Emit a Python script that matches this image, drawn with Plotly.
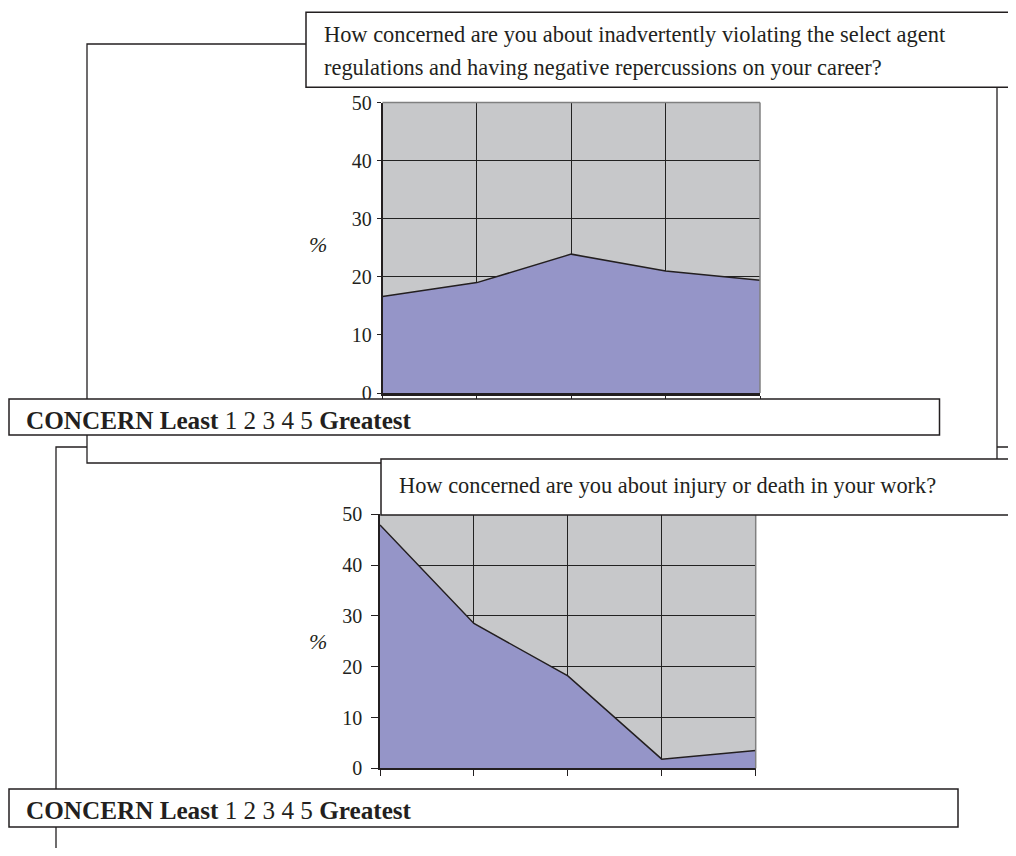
import plotly.graph_objects as go

# ---------------- data ----------------
categories = [1, 2, 3, 4, 5]
career_pct = [16.6, 19.0, 23.9, 21.0, 19.4]
injury_pct = [47.9, 28.5, 18.2, 1.8, 3.5]
y_ticks = [0, 10, 20, 30, 40, 50]

title_career_1 = "How concerned are you about inadvertently violating the select agent"
title_career_2 = "regulations and having negative repercussions on your career?"
title_injury = "How concerned are you about injury or death in your work?"
scale_label = "<b>CONCERN Least</b> 1 2 3 4 5 <b>Greatest</b>"
y_label = "<i>%</i>"

# ---------------- layout helpers ----------------
OFF = 8  # page offset of the figure inside the browser window
W, H = 1016 - OFF, 856 - 2 * OFF
FONT = "Liberation Serif, Times New Roman, serif"
INK = "#231f20"
GREY_BG = "#c7c8ca"
FILL = "#9595c8"
BORDER_GREY = "#808080"


def px(x):
    return (x - OFF) / W


def py(y):
    return 1 - (y - OFF) / H


def box(x0, y0, x1, y1, layer="above", fill="white", width=1.5):
    return dict(type="rect", xref="paper", yref="paper",
                x0=px(x0), x1=px(x1), y0=py(y1), y1=py(y0),
                line=dict(color=INK, width=width), fillcolor=fill, layer=layer)


def text(x, y, s, size, anchor="left"):
    return dict(xref="paper", yref="paper", x=px(x), y=py(y), text=s,
                showarrow=False, xanchor=anchor, yanchor="middle",
                font=dict(family=FONT, size=size, color=INK))


fig = go.Figure()

fig.add_trace(go.Scatter(x=categories, y=career_pct, mode="lines",
                         fill="tozeroy", fillcolor=FILL,
                         line=dict(color=INK, width=1.5),
                         xaxis="x", yaxis="y", showlegend=False, hoverinfo="skip"))
fig.add_trace(go.Scatter(x=categories, y=injury_pct, mode="lines",
                         fill="tozeroy", fillcolor=FILL,
                         line=dict(color=INK, width=1.5),
                         xaxis="x2", yaxis="y2", showlegend=False, hoverinfo="skip"))

# plot areas (pixel positions in the reference)
top_dom = dict(x=[px(382.5), px(760)], y=[py(393), py(102.5)])
bot_dom = dict(x=[px(380), px(755.7)], y=[py(768.3), py(514.3)])


def xaxis(dom, anchor, ticklen, lw):
    return dict(domain=dom, anchor=anchor, range=[1, 5], tickvals=categories,
                showticklabels=False, ticks="outside", ticklen=ticklen,
                tickcolor=INK, tickwidth=1, showline=True, linecolor=INK,
                linewidth=lw, showgrid=True, gridcolor="#222222", gridwidth=1,
                zeroline=False, fixedrange=True)


def yaxis(dom, anchor, ticklen, standoff):
    return dict(domain=dom, anchor=anchor, range=[0, 50], tickvals=y_ticks,
                ticks="outside", ticklen=ticklen, tickcolor=INK, tickwidth=1,
                showline=True, linecolor=INK, linewidth=1.5,
                showgrid=True, gridcolor="#222222", gridwidth=1,
                zeroline=False, fixedrange=True, ticklabelstandoff=standoff,
                tickfont=dict(family=FONT, size=20, color=INK))


shapes = [
    # background frames (white, below plots)
    box(56, 447, 1040, 900, layer="below", width=1.3),
    box(87, 44, 997, 463, layer="below", width=1.3),
    # grey plot backgrounds
    dict(type="rect", xref="x domain", yref="y domain", x0=0, x1=1, y0=0, y1=1,
         fillcolor=GREY_BG, line=dict(width=0), layer="below"),
    dict(type="rect", xref="x2 domain", yref="y2 domain", x0=0, x1=1, y0=0, y1=1,
         fillcolor=GREY_BG, line=dict(width=0), layer="below"),
    # grey plot borders (top and right)
    dict(type="line", xref="x domain", yref="y domain", x0=0, x1=1, y0=1, y1=1,
         line=dict(color=BORDER_GREY, width=1.5), layer="above"),
    dict(type="line", xref="x domain", yref="y domain", x0=1, x1=1, y0=0, y1=1,
         line=dict(color=BORDER_GREY, width=1.5), layer="above"),
    dict(type="line", xref="x2 domain", yref="y2 domain", x0=1, x1=1, y0=0, y1=1,
         line=dict(color=BORDER_GREY, width=1.5), layer="above"),
    # text boxes
    box(306, 12.3, 1014.5, 87.3),
    box(9, 399, 939.5, 435),
    box(381, 459, 1013.3, 515),
    box(9, 789, 958, 827),
]

annotations = [
    text(321.7, 34, title_career_1, 22.4),
    text(321.7, 67.5, title_career_2, 22.4),
    text(396.7, 485, title_injury, 22.4),
    text(24, 420.7, scale_label, 25.2),
    text(24, 810.7, scale_label, 25.2),
    text(318, 244, y_label, 22, anchor="center"),
    text(318, 641, y_label, 22, anchor="center"),
]

fig.update_layout(
    width=W, height=H,
    margin=dict(l=0, r=0, t=0, b=0, pad=0, autoexpand=False),
    paper_bgcolor="white", plot_bgcolor="rgba(0,0,0,0)",
    showlegend=False,
    xaxis=xaxis(top_dom["x"], "y", 4, 2.5),
    yaxis=yaxis(top_dom["y"], "x", 4, 1),
    xaxis2=xaxis(bot_dom["x"], "y2", 6, 2),
    yaxis2=yaxis(bot_dom["y"], "x2", 7, 5),
    shapes=shapes,
    annotations=annotations,
)

fig.write_html("out.html")
